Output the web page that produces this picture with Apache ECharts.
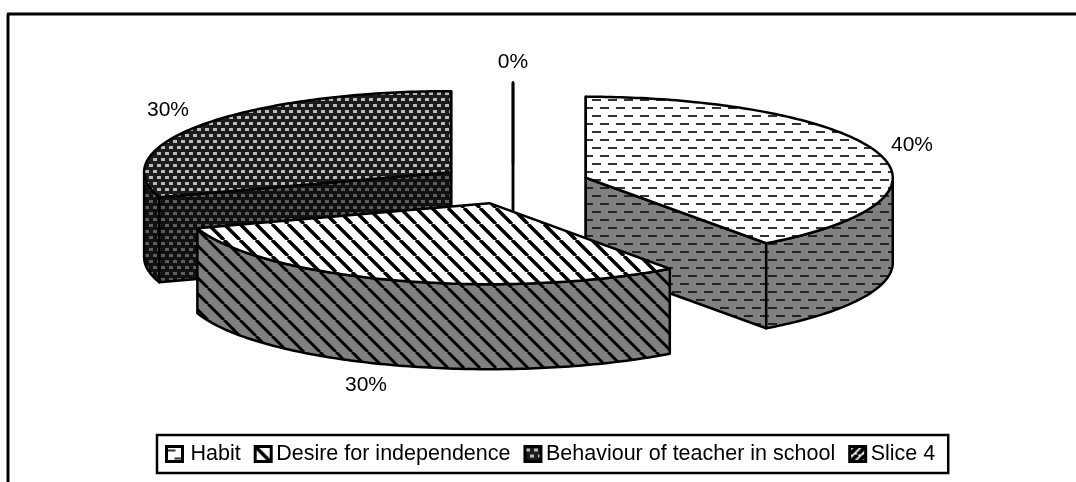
<!DOCTYPE html>
<html>
<head>
<meta charset="utf-8">
<style>
    html, body { margin: 0; padding: 0; background: #fff; }
    #pie_chart { width: 1076px; height: 482px; }
</style>
<script src="https://cdn.jsdelivr.net/npm/echarts@6/dist/echarts.min.js"></script>
</head>
<body>
<div id="pie_chart"></div>
<script>
let categories = ['Habit', 'Desire for independence', 'Behaviour of teacher in school', 'Slice 4'];
let shares = [40, 30, 30, 0];

// back to front, slices overlap each other
let drawOrder = [2, 3, 0, 1];

// pie geometry, in pixels
let centerX = 513, centerY = 184;
let radiusX = 307, radiusY = 81;
let explode = 76.5;
let depth = 85;
let labelAnchors = [[912, 145], [366, 385], [168, 110], [513, 62]];

function dashTile(bg, ink) {
    return tile(16, 16, bg, function (ctx) {
        ctx.fillStyle = ink;
        ctx.fillRect(0, 3, 9, 2);
        ctx.fillRect(8, 11, 8, 2);
        ctx.fillRect(0, 11, 1, 2);
    });
}

function stripeTile(bg, ink, width, size, rising) {
    return tile(size, size, bg, function (ctx) {
        ctx.strokeStyle = ink;
        ctx.lineWidth = width;
        for (let i = -1; i <= 1; i++) {
            ctx.beginPath();
            if (rising) {
                ctx.moveTo(i * size, size);
                ctx.lineTo(i * size + size, 0);
            } else {
                ctx.moveTo(i * size, 0);
                ctx.lineTo(i * size + size, size);
            }
            ctx.stroke();
        }
    });
}

function dotTile(bg, ink) {
    return tile(8, 12, bg, function (ctx) {
        ctx.fillStyle = ink;
        ctx.fillRect(1, 2, 4, 3);
        ctx.fillRect(5, 8, 3, 3);
        ctx.fillRect(0, 8, 1, 3);
    });
}

function tile(w, h, bg, draw) {
    let canvas = document.createElement('canvas');
    canvas.width = w;
    canvas.height = h;
    let ctx = canvas.getContext('2d');
    ctx.fillStyle = bg;
    ctx.fillRect(0, 0, w, h);
    draw(ctx);
    return { type: 'pattern', image: canvas, repeat: 'repeat' };
}

let topFills = [
    dashTile('#fdfdfd', '#333'),
    stripeTile('#fff', '#000', 3.5, 16, false),
    dotTile('#1c1c1c', '#bbb'),
    stripeTile('#fff', '#000', 4, 8, true)
];
let wallFills = [
    dashTile('#808080', '#222'),
    stripeTile('#808080', '#000', 3, 16, false),
    dotTile('#111', '#5e5e5e'),
    stripeTile('#808080', '#000', 4, 8, true)
];

function sliceAngles(index) {
    let total = shares.reduce(function (a, b) { return a + b; }, 0);
    let before = 0;
    for (let i = 0; i < index; i++) {
        before += shares[i];
    }
    return [before / total * 2 * Math.PI, (before + shares[index]) / total * 2 * Math.PI];
}

// angles run clockwise from 12 o'clock
function rimPoint(center, angle, drop) {
    return [
        center[0] + radiusX * Math.sin(angle),
        center[1] - radiusY * Math.cos(angle) + drop
    ];
}

function rimPoints(center, from, to, drop) {
    let points = [];
    let steps = Math.max(1, Math.ceil((to - from) * 60));
    for (let i = 0; i <= steps; i++) {
        points.push(rimPoint(center, from + (to - from) * i / steps, drop));
    }
    return points;
}

function face(points, fill) {
    return {
        type: 'polygon',
        shape: { points: points },
        style: { fill: fill, stroke: '#000', lineWidth: 2.5, lineJoin: 'round' }
    };
}

function renderSlice(index, value) {
    let angles = sliceAngles(index);
    let from = angles[0], to = angles[1];
    let mid = (from + to) / 2;
    let center = [
        centerX + explode * Math.sin(mid),
        centerY - explode * radiusY / radiusX * Math.cos(mid)
    ];
    let children = [];

    // flat walls along the two radial cuts, only the ones turned to the viewer
    let cuts = [[from, from - Math.PI / 2], [to, to + Math.PI / 2]];
    cuts.forEach(function (cut) {
        if (Math.cos(cut[1]) < 1e-9) {
            let edge = rimPoint(center, cut[0], 0);
            let low = rimPoint(center, cut[0], depth);
            children.push(face([center, edge, low, [center[0], center[1] + depth]], wallFills[index]));
        }
    });

    // curved wall on the front half of the rim
    let wallFrom = Math.max(from, Math.PI / 2);
    let wallTo = Math.min(to, Math.PI * 1.5);
    if (wallTo > wallFrom) {
        let wall = rimPoints(center, wallFrom, wallTo, 0)
            .concat(rimPoints(center, wallFrom, wallTo, depth).reverse());
        children.push(face(wall, wallFills[index]));
    }

    children.push(face([center].concat(rimPoints(center, from, to, 0)), topFills[index]));

    children.push({
        type: 'text',
        style: {
            text: value + '%',
            x: labelAnchors[index][0],
            y: labelAnchors[index][1],
            fill: '#000',
            font: '21px "Liberation Sans", Arial, sans-serif',
            textAlign: 'center',
            textVerticalAlign: 'middle'
        }
    });
    return { type: 'group', children: children };
}

let chart = echarts.init(document.getElementById('pie_chart'));

let legendFont = '"Liberation Sans", Arial, sans-serif';

let option = {
    animation: false,
    backgroundColor: '#fff',
    graphic: [
        { type: 'line', shape: { x1: 7, y1: 14, x2: 1076, y2: 14 }, style: { stroke: '#000', lineWidth: 3 } },
        { type: 'line', shape: { x1: 8, y1: 14, x2: 8, y2: 482 }, style: { stroke: '#000', lineWidth: 3 } }
    ],
    legend: {
        left: 157,
        top: 435,
        orient: 'horizontal',
        selectedMode: false,
        backgroundColor: '#fff',
        borderColor: '#000',
        borderWidth: 2.5,
        padding: [8, 13, 8, 8],
        itemWidth: 16,
        itemHeight: 15,
        itemGap: 13,
        textStyle: { color: '#000', fontSize: 21.5, fontFamily: legendFont },
        data: categories.map(function (name, i) {
            return {
                name: name,
                icon: 'rect',
                textStyle: { padding: i === 0 ? [0, 0, 0, 3] : 0 },
                itemStyle: { color: topFills[i], borderColor: '#000', borderWidth: 3 }
            };
        })
    },
    series: drawOrder.map(function (index) {
        return {
            type: 'custom',
            name: categories[index],
            coordinateSystem: 'none',
            silent: true,
            data: [[shares[index]]],
            renderItem: function (params, api) {
                return renderSlice(index, api.value(0));
            }
        };
    })
};

chart.setOption(option);
</script>
</body>
</html>
